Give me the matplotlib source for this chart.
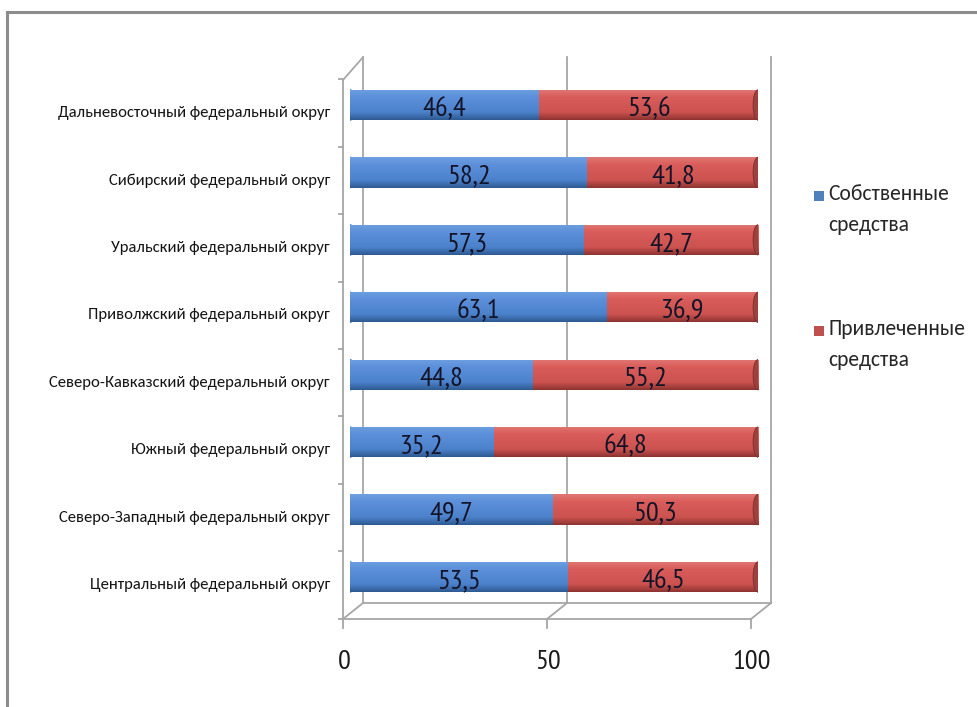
import matplotlib
matplotlib.use("Agg")
import matplotlib.pyplot as plt
import numpy as np
from matplotlib.colors import LinearSegmentedColormap
from matplotlib.patches import Ellipse, Rectangle
from matplotlib.transforms import offset_copy
from matplotlib.lines import Line2D

categories = [
    "Центральный федеральный округ",
    "Северо-Западный федеральный округ",
    "Южный федеральный округ",
    "Северо-Кавказский федеральный округ",
    "Приволжский федеральный округ",
    "Уральский федеральный округ",
    "Сибирский федеральный округ",
    "Дальневосточный федеральный округ",
]
own_funds = [53.5, 49.7, 35.2, 44.8, 63.1, 57.3, 58.2, 46.4]
borrowed_funds = [46.5, 50.3, 64.8, 55.2, 36.9, 42.7, 41.8, 53.6]
series_names = ["Собственные\nсредства", "Привлеченные\nсредства"]
x_ticks = [0, 50, 100]
x_tick_labels = ["0", "50", "100"]

W, H = 977, 707
fig = plt.figure(figsize=(W / 100, H / 100), dpi=100)
fig.patch.set_facecolor("white")

def fx(x):
    return x / W

def fy(y):
    return 1 - y / H

# outer frame (partially visible)
fig.add_artist(Line2D([fx(7), fx(977)], [fy(12), fy(12)], color="#8c8c8c", lw=2.2))
fig.add_artist(Line2D([fx(7), fx(7)], [fy(12), fy(707)], color="#8c8c8c", lw=2.2))

left_px, right_px, top_px, bot_px = 350, 758, 72, 611
ax = fig.add_axes([fx(left_px), fy(bot_px), (right_px - left_px) / W, (bot_px - top_px) / H])
ax.set_axis_off()

spacing = 67.4
y_top_data = 7 + (105 - top_px) / spacing
y_bot_data = 0 - (bot_px - 577) / spacing
ax.set_xlim(0, 100)
ax.set_ylim(y_bot_data, y_top_data)

ypos = np.arange(len(categories))
bh = 0.45

blue_base = "#4F81BD"
red_base = "#C0504D"
blue_cmap = LinearSegmentedColormap.from_list(
    "b", [(0, "#6E9FE0"), (0.25, "#5C90DA"), (0.75, "#4C82CB"), (1, "#2E5A92")])
red_cmap = LinearSegmentedColormap.from_list(
    "r", [(0, "#E07874"), (0.25, "#D95C59"), (0.75, "#CC5350"), (1, "#8E3331")])

grad = np.linspace(0, 1, 64).reshape(-1, 1)

# 3D walls / floor decoration
grid_color = "#a6a6a6"
back = offset_copy(ax.transData, fig=fig, x=13, y=8, units="dots")
front = offset_copy(ax.transData, fig=fig, x=-7, y=-8, units="dots")
ytop_wall = y_top_data + 0.1
for xt in x_ticks:
    ax.plot([xt, xt], [y_bot_data, ytop_wall], color=grid_color, lw=1.3,
            transform=back, clip_on=False, zorder=0)
ax.plot([0, 100], [y_bot_data, y_bot_data], color=grid_color, lw=1.3, transform=back, clip_on=False, zorder=0)
ax.plot([0, 100], [y_bot_data, y_bot_data], color=grid_color, lw=1.3, transform=front, clip_on=False, zorder=0)
ax.plot([0, 0], [y_bot_data, ytop_wall - 0.1], color=grid_color, lw=1.3, transform=front, clip_on=False, zorder=0)
for xt in x_ticks:
    p1 = front.transform((xt, y_bot_data))
    p2 = back.transform((xt, y_bot_data))
    fig.add_artist(Line2D([p1[0] / W, p2[0] / W], [p1[1] / H, p2[1] / H], color=grid_color, lw=1.3))
    fig.add_artist(Line2D([p1[0] / W, p1[0] / W], [p1[1] / H, (p1[1] - 9) / H], color=grid_color, lw=1.3))
p1 = front.transform((0, ytop_wall - 0.1))
p2 = back.transform((0, ytop_wall))
fig.add_artist(Line2D([p1[0] / W, p2[0] / W], [p1[1] / H, p2[1] / H], color=grid_color, lw=1.3))
for yb in np.arange(-0.5, len(categories) + 0.5, 1.0):
    p = front.transform((0, yb))
    fig.add_artist(Line2D([(p[0] - 4) / W, p[0] / W], [p[1] / H, p[1] / H], color=grid_color, lw=1.3))

# bars
bars_own = ax.barh(ypos, own_funds, height=bh, color=blue_base, zorder=2)
bars_bor = ax.barh(ypos, borrowed_funds, left=own_funds, height=bh, color=red_base, zorder=2)

for bars, cmap in ((bars_own, blue_cmap), (bars_bor, red_cmap)):
    for b in bars:
        x0, y0 = b.get_x(), b.get_y()
        w, h = b.get_width(), b.get_height()
        im = ax.imshow(grad, cmap=cmap, aspect="auto", extent=[x0, x0 + w, y0, y0 + h],
                       origin="upper", zorder=3, interpolation="bilinear")
        im.set_clip_path(b)

cap_w = 2.4
for i in range(len(categories)):
    ax.add_patch(Ellipse((0, ypos[i]), cap_w, bh, color="#5A8DD3", zorder=2.5))
    xe = own_funds[i] + borrowed_funds[i]
    ax.add_patch(Ellipse((xe, ypos[i]), cap_w, bh, facecolor="#A0403D", edgecolor="#7a2e2c", lw=0.6, zorder=4))

ax.set_xlim(0, 100)
ax.set_ylim(y_bot_data, y_top_data)

nar_font = ["PT Sans Narrow", "DejaVu Sans"]
cal_font = ["Carlito", "DejaVu Sans"]
lab_off = offset_copy(ax.transData, fig=fig, x=0, y=-4, units="dots")
for i in range(len(categories)):
    ax.text(own_funds[i] / 2, ypos[i], f"{own_funds[i]:.1f}".replace(".", ","),
            ha="center", va="center", fontsize=20.5, color="#141428", family=nar_font,
            transform=lab_off, zorder=5)
    ax.text(own_funds[i] + borrowed_funds[i] / 2, ypos[i], f"{borrowed_funds[i]:.1f}".replace(".", ","),
            ha="center", va="center", fontsize=20.5, color="#141428", family=nar_font,
            transform=lab_off, zorder=5)

cat_off = offset_copy(ax.transData, fig=fig, x=-20, y=-8, units="dots")
for i, c in enumerate(categories):
    ax.text(0, ypos[i], c, ha="right", va="center", fontsize=12, color="#141414",
            family=cal_font, transform=cat_off, clip_on=False)

tick_off = offset_copy(ax.transData, fig=fig, x=-6, y=-51, units="dots")
for xt, lbl in zip(x_ticks, x_tick_labels):
    ax.text(xt, y_bot_data, lbl, ha="center", va="center", fontsize=20.5, color="#1a1a1a",
            family=nar_font, transform=tick_off, clip_on=False)

# legend
leg_items = [(series_names[0], "#4F81BD", 196), (series_names[1], "#C0504D", 331)]
for name, col, ypx in leg_items:
    fig.add_artist(Rectangle((fx(814), fy(ypx + 5)), 10 / W, 10 / H, facecolor=col, edgecolor="none"))
    fig.text(fx(828), fy(ypx - 12), name, ha="left", va="top", fontsize=15.5, color="#262626",
             family=cal_font, linespacing=1.7)

fig.savefig("out.png", dpi=100, facecolor="white")
